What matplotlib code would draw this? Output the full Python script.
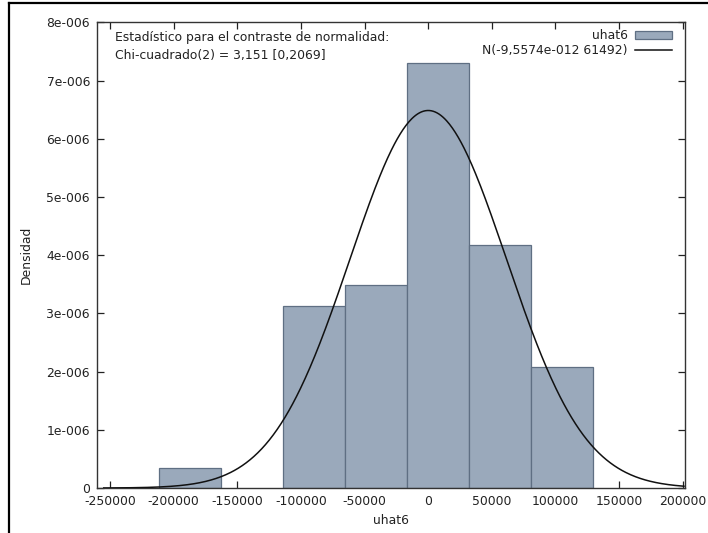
import numpy as np
import matplotlib
matplotlib.use("Agg")
import matplotlib.pyplot as plt
from matplotlib.lines import Line2D
from matplotlib.ticker import FuncFormatter

# Residual histogram (uhat6) with fitted normal density
bin_start = -211500
bin_width = 48700
counts = [1, 0, 9, 10, 21, 12, 6]
n_obs = 59
mu = -9.5574e-12
sigma = 61492

x_ticks = [-250000, -200000, -150000, -100000, -50000, 0, 50000, 100000, 150000, 200000]
y_ticks = [0, 1e-6, 2e-6, 3e-6, 4e-6, 5e-6, 6e-6, 7e-6, 8e-6]

stat_text = "Estadístico para el contraste de normalidad:\nChi-cuadrado(2) = 3,151 [0,2069]"
norm_label = "N(-9,5574e-012 61492)"

plt.rcParams['font.family'] = ['DejaVu Sans']
plt.rcParams['axes.unicode_minus'] = False
FS = 8.9

fig = plt.figure(figsize=(7.08, 5.33), dpi=100)
ax = fig.add_axes([0.137, 0.0844, 0.8305, 0.8734])

edges = bin_start + bin_width * np.arange(len(counts) + 1)
dens = np.array(counts) / (n_obs * bin_width)
keep = dens > 0
bars = ax.bar(edges[:-1][keep], dens[keep], width=bin_width, align='edge',
              color='#9aa9bb', edgecolor='#5f6f83', linewidth=0.9, label='uhat6', zorder=2)

xs = np.linspace(-255000, 201000, 600)
ys = np.exp(-0.5 * ((xs - mu) / sigma) ** 2) / (sigma * np.sqrt(2 * np.pi))
curve, = ax.plot(xs, ys, color='#111111', linewidth=1.1, label=norm_label, zorder=3)

ax.set_xlim(-260300, 201800)
ax.set_ylim(0, 8e-6)
ax.set_xticks(x_ticks)
ax.set_yticks(y_ticks)

def sci_fmt(v, pos):
    if v == 0:
        return "0"
    m, e = ("%e" % v).split("e")
    return "%de-%03d" % (round(float(m)), abs(int(e)))

ax.yaxis.set_major_formatter(FuncFormatter(sci_fmt))
ax.tick_params(direction='in', length=5, width=0.9, top=True, right=True,
               labelsize=FS, colors='#222222')
ax.tick_params(axis='y', pad=5)
ax.tick_params(axis='x', pad=5)
for s in ax.spines.values():
    s.set_linewidth(1.0)
    s.set_color('#333333')

ax.set_xlabel("uhat6", fontsize=FS, labelpad=4, color='#222222')
ax.set_ylabel("Densidad", fontsize=FS, labelpad=10, color='#222222')

ax.text(0.031, 0.981, stat_text, transform=ax.transAxes, fontsize=FS,
        va='top', ha='left', linespacing=1.45, color='#222222')

# legend placed by pixel offsets from the top-right corner of the axes
leg = ax.legend([bars, curve], ['uhat6', norm_label], loc='upper right',
                bbox_to_anchor=(1 - 8 / 588, 1 - 2 / 466), borderaxespad=0,
                frameon=False, markerfirst=False, fontsize=FS,
                handlelength=3.0, handleheight=0.6,
                labelspacing=0.15, handletextpad=0.6)
for t in leg.get_texts():
    t.set_color('#222222')

# thick border along the top and left edge of the image
fig.add_artist(Line2D([9 / 708, 9 / 708], [0, 1 - 3 / 533], color='black', linewidth=1.6))
fig.add_artist(Line2D([9 / 708, 1], [1 - 3 / 533, 1 - 3 / 533], color='black', linewidth=1.6))

fig.savefig("out.png", dpi=100)
